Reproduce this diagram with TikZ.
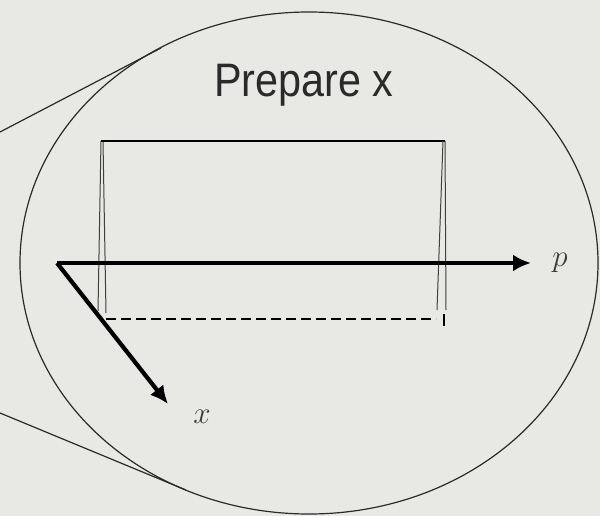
\documentclass[tikz,border=0pt]{standalone}
\usepackage{fontspec}
\usepackage{graphicx}
\setmainfont{Liberation Sans}
\usetikzlibrary{arrows.meta}
\definecolor{bgcol}{HTML}{E8E8E4}
\definecolor{inkcol}{HTML}{2A2A2A}
\definecolor{labcol}{HTML}{3C3C3C}
\tikzset{
  outline/.style={draw=inkcol, line width=1.2pt},
  thinline/.style={draw=inkcol!90, line width=1pt},
  axisarrow/.style={draw=black, line width=4.2pt, -{Latex[length=18pt,width=17pt]}},
  dashline/.style={draw=black, line width=1.4pt, dash pattern=on 10pt off 5pt},
  axislabel/.style={text=labcol, font=\fontsize{24.88}{28}\selectfont, inner sep=0pt},
}
\newcommand{\biglab}[1]{\scalebox{1.25}{$#1$}}
\begin{document}
\begin{tikzpicture}[x=1pt,y=-1pt]
  \useasboundingbox (0,0) rectangle (600,516);
  \fill[bgcol] (0,0) rectangle (600,516);
  % magnifier ellipse and its tangent lines
  \draw[outline] (309,263) ellipse [x radius=289pt, y radius=251pt];
  \coordinate (lu) at (0,132);
  \coordinate (tu) at (161,48);
  \coordinate (ll) at (0,413);
  \coordinate (tl) at (186,490);
  \draw[outline] (lu) -- (tu);
  \draw[outline] (ll) -- (tl);
  % title
  \node[text=inkcol, anchor=base, inner sep=0pt] (title) at (304,97)
    {\scalebox{0.88}[1]{\fontsize{47}{50}\selectfont Prepare x}};
  % box (top-hat) drawing
  \coordinate (a1) at (101,141);
  \coordinate (a2) at (103,141);
  \coordinate (a3) at (98,311);
  \coordinate (a4) at (106,313);
  \coordinate (b1) at (443,141);
  \coordinate (b2) at (445,141);
  \coordinate (b3) at (437,310);
  \coordinate (b4) at (446,310);
  \draw[thinline] (a3) -- (a1);
  \draw[thinline] (a4) -- (a2);
  \draw[draw=black, line width=1.6pt] (a1) -- (b2);
  \draw[thinline] (b1) -- (b3);
  \draw[thinline] (b2) -- (b4);
  \coordinate (d1) at (106,319);
  \coordinate (d2) at (436,319);
  \coordinate (d3) at (444,314);
  \coordinate (d4) at (444,326);
  \draw[dashline] (d1) -- (d2);
  \draw[draw=black, line width=1.2pt] (d3) -- (d4);
  % axes
  \coordinate (O) at (57,263);
  \coordinate (ptip) at (531,263);
  \coordinate (xtip) at (168,404);
  \draw[axisarrow] (O) -- (ptip);
  \draw[axisarrow] (O) -- (xtip);
  \node[axislabel] (plabel) at (560,263) {\biglab{p}};
  \node[axislabel] (xlabel) at (202,417) {\biglab{x}};
\end{tikzpicture}
\end{document}
